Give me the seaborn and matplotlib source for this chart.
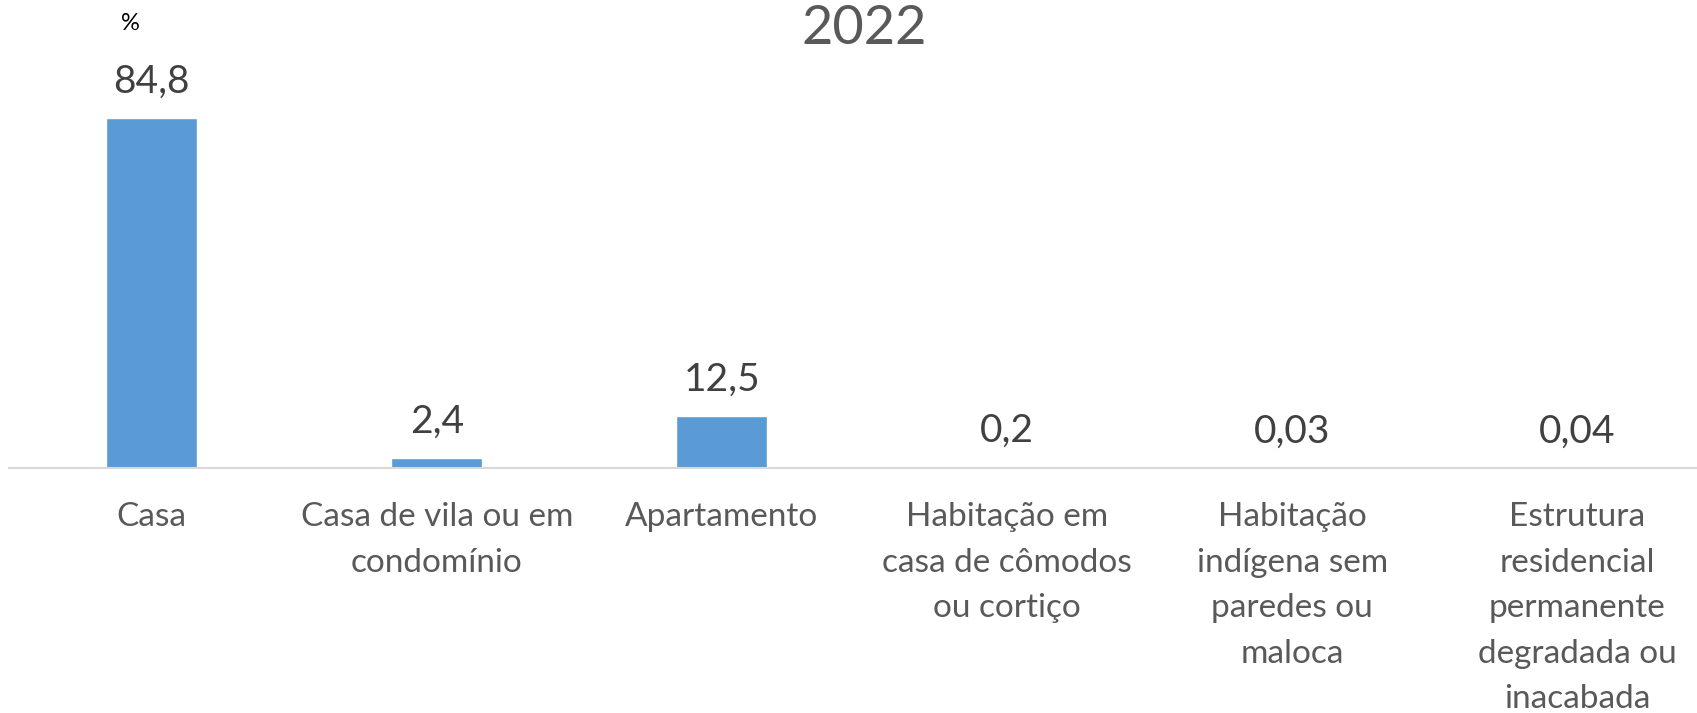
import matplotlib
matplotlib.use("Agg")
import matplotlib.pyplot as plt
import seaborn as sns
import pandas as pd

categories = [
    "Casa",
    "Casa de vila ou em\ncondomínio",
    "Apartamento",
    "Habitação em\ncasa de cômodos\nou cortiço",
    "Habitação\nindígena sem\nparedes ou\nmaloca",
    "Estrutura\nresidencial\npermanente\ndegradada ou\ninacabada",
]
values = [84.8, 2.4, 12.5, 0.2, 0.03, 0.04]
value_labels = ["84,8", "2,4", "12,5", "0,2", "0,03", "0,04"]
title = "2022"
unit = "%"

sns.set_theme(style="white")
plt.rcParams["font.family"] = ["Lato", "DejaVu Sans"]

df = pd.DataFrame({"cat": categories, "val": values})

fig = plt.figure(figsize=(16.97, 7.13), dpi=100)
ax = fig.add_axes([0.0053, 0.344, 0.9947, 0.614])

sns.barplot(data=df, x="cat", y="val", color="#5B9BD5", width=0.32,
            saturation=1, ax=ax)

ax.set_ylim(0, 106)
ax.set_xlim(-0.5, 5.42)
ax.set_xlabel("")
ax.set_ylabel("")
ax.set_yticks([])
for s in ["top", "right", "left"]:
    ax.spines[s].set_visible(False)
ax.spines["bottom"].set_color("#d9d9d9")
ax.spines["bottom"].set_linewidth(1.5)
ax.tick_params(axis="x", length=0, pad=25, labelsize=24, labelcolor="#595959")
for t in ax.get_xticklabels():
    t.set_linespacing(1.64)
    t.set_va("top")

for i, (v, lab) in enumerate(zip(values, value_labels)):
    ax.annotate(lab, (i, v), xytext=(0, 26), textcoords="offset points",
                ha="center", va="center", fontsize=28, color="#404040")

fig.text(864 / 1697, 1 - 29 / 713, title, ha="center", va="center",
         fontsize=39, color="#595959")
fig.text(130 / 1697, 1 - 24 / 713, unit, ha="center", va="center",
         fontsize=17, color="#000000")

fig.savefig("out.png", dpi=100)
